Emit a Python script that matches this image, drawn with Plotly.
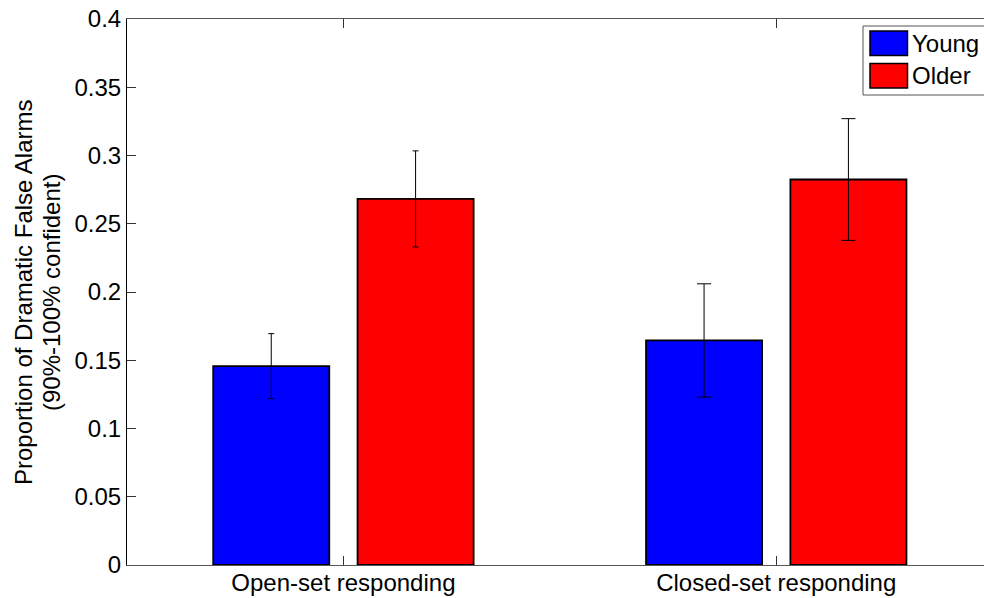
import plotly.graph_objects as go

categories = ["Open-set responding", "Closed-set responding"]
groups = ["Young", "Older"]
young = [0.1457, 0.1645]
older = [0.2682, 0.2824]
young_err = [0.0238, 0.0415]
older_err = [0.0352, 0.0446]
colors = ["#0000ff", "#ff0000"]
cap_widths = [3, 7]  # caps are wider in the second group of the original

W, H = 984, 598
L, R, T, B = 127, 0, 19, 33
FONT = "Liberation Sans, Arial, sans-serif"

def px_x(px):
    return (px - L) / (W - L - R)

def px_y(py):
    return (H - B - py) / (H - T - B)

fig = go.Figure()
xs = [1, 2]
for name, vals, errs, col in zip(groups, [young, older], [young_err, older_err], colors):
    # one trace per bar so each group can have its own cap width
    for i in range(len(xs)):
        fig.add_trace(go.Bar(
            x=[xs[i]], y=[vals[i]], name=name, offsetgroup=name,
            marker=dict(color=col, line=dict(color="black", width=1.8)),
            error_y=dict(type="data", array=[errs[i]], color="black",
                         thickness=1, width=cap_widths[i]),
            showlegend=False,
        ))

# legend drawn by hand to get the big MATLAB style swatches
fig.add_shape(type="rect", xref="paper", yref="paper",
              x0=px_x(863), x1=px_x(995), y0=px_y(95), y1=px_y(26),
              line=dict(color="#555", width=1), fillcolor="white", layer="above")
for i, (name, col) in enumerate(zip(groups, colors)):
    top = 31 + i * 32.5
    fig.add_shape(type="rect", xref="paper", yref="paper",
                  x0=px_x(870), x1=px_x(907.5), y0=px_y(top + 24.5), y1=px_y(top),
                  line=dict(color="black", width=1.5), fillcolor=col, layer="above")
    fig.add_annotation(text=name, xref="paper", yref="paper",
                       x=px_x(910), y=px_y(top + 12.5), xanchor="left", yanchor="middle",
                       showarrow=False, font=dict(family=FONT, size=24, color="black"))

# y title as two rotated lines (tighter line spacing than plotly's <br>)
ytitle = ["Proportion of Dramatic False Alarms", "(90%-100% confident)"]
for k, line in enumerate(ytitle):
    fig.add_annotation(text=line, xref="paper", yref="paper", textangle=-90,
                       x=px_x(23 + 28 * k), y=px_y(293), xanchor="center", yanchor="middle",
                       showarrow=False, font=dict(family=FONT, size=24, color="black"))

fig.update_layout(
    width=W, height=H,
    margin=dict(l=L, r=R, t=T, b=B, autoexpand=False),
    paper_bgcolor="white", plot_bgcolor="white",
    barmode="group", bargap=0.333, bargroupgap=0.196,
    font=dict(family=FONT, size=24, color="black"),
)
fig.update_xaxes(
    range=[0.5, 2.48], tickvals=xs, ticktext=categories,
    ticks="inside", ticklen=9, tickcolor="#333", showgrid=False, zeroline=False,
    showline=True, linecolor="#555", linewidth=1, mirror="ticks",
    tickfont=dict(size=24), automargin=False, ticklabelstandoff=-4,
)
fig.update_yaxes(
    range=[0, 0.4], dtick=0.05, ticks="inside", ticklen=9, tickcolor="#333",
    showgrid=False, zeroline=False, showline=True, linecolor="black", linewidth=1,
    tickfont=dict(size=24), automargin=False,
)

fig.write_html("out.html", config={"displayModeBar": False},
               post_script="document.body.style.margin='0';")
